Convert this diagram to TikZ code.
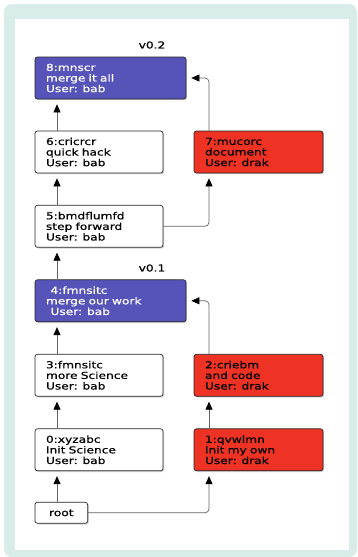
\documentclass[tikz,border=0pt]{standalone}
\usepackage{fontspec}
\setmainfont{DejaVu Sans}[FakeStretch=1.27, FakeBold=0.6]
\usetikzlibrary{arrows.meta,shadows,calc}
\definecolor{frameteal}{RGB}{216,236,234}
\definecolor{mergeblue}{RGB}{86,84,185}
\definecolor{branchred}{RGB}{238,50,36}
\definecolor{edgegray}{RGB}{100,100,100}
\begin{document}
\begin{tikzpicture}[x=1pt,y=-1pt,
  commit/.style={draw=black!85, line width=0.7pt, rounded corners=2.5pt,
    minimum height=42pt, inner xsep=11pt, inner ysep=2pt, align=left,
    font=\fontsize{9.6}{10.6}\selectfont,
    drop shadow={shadow xshift=1.2pt,shadow yshift=-1.2pt,opacity=0.35}},
  narrowbox/.style={text width=106pt},
  widebox/.style={text width=129pt},
  redbox/.style={text width=107pt, fill=branchred},
  bluebox/.style={widebox, fill=mergeblue, text=white},
  whitebox/.style={narrowbox, fill=white},
  vlabel/.style={font=\fontsize{9.6}{10.6}\selectfont, inner sep=0pt},
  link/.style={draw=edgegray, line width=0.7pt, rounded corners=4pt,
    -{Triangle[length=8pt,width=7pt,color=black]}, shorten >=5pt}
]
\useasboundingbox (0,0) rectangle (357,557);
\fill[white] (0,0) rectangle (357,557);
\fill[frameteal, rounded corners=8pt] (4,4) rectangle (357,557);
\fill[white] (15,19) rectangle (349,550);

\coordinate (colL) at (57,0);
\coordinate (colR) at (209,0);

\node[vlabel] (v02) at (152,45) {v0.2};
\node[vlabel] (v01) at (152,268) {v0.1};

\node[commit,bluebox] (n8) at (110.5,78) {8:mnscr\\merge it all\\User: bab};
\node[commit,whitebox] (n6) at (99,152) {6:cricrcr\\quick hack\\User: bab};
\node[commit,redbox] (n7) at (258.5,152) {7:mucorc\\document\\User: drak};
\node[commit,whitebox] (n5) at (99,226.3) {5:bmdflumfd\\step forward\\User: bab};
\node[commit,bluebox] (n4) at (110.5,300.8) {\hspace*{4.5pt}4:fmnsitc\\merge our work\\\hspace*{4.5pt}User: bab};
\node[commit,whitebox] (n3) at (99,375.3) {3:fmnsitc\\more Science\\User: bab};
\node[commit,redbox] (n2) at (258.5,375.3) {2:criebm\\and code\\User: drak};
\node[commit,whitebox] (n0) at (99,449.8) {0:xyzabc\\Init Science\\User: bab};
\node[commit,redbox] (n1) at (258.5,449.8) {1:qvwlmn\\Init my own\\User: drak};
\node[commit, fill=white, minimum height=21pt, minimum width=52.7pt, inner xsep=4pt, align=center] (root) at (61.3,512.8) {root};

\draw[link] (colL |- root.north) -- (colL |- n0.south);
\draw[link] (colL |- n0.north) -- (colL |- n3.south);
\draw[link] (colL |- n3.north) -- (colL |- n4.south);
\draw[link] (colL |- n4.north) -- (colL |- n5.south);
\draw[link] (colL |- n5.north) -- (colL |- n6.south);
\draw[link] (colL |- n6.north) -- (colL |- n8.south);

\draw[link] (root.east) -- (colR |- root.east) -- (colR |- n1.south);
\draw[link] (colR |- n1.north) -- (colR |- n2.south);
\draw[link] (colR |- n2.north) -- (colR |- n4.east) -- (n4.east);
\draw[link] (n5.east) -- (colR |- n5.east) -- (colR |- n7.south);
\draw[link] (colR |- n7.north) -- (colR |- n8.east) -- (n8.east);
\end{tikzpicture}
\end{document}
